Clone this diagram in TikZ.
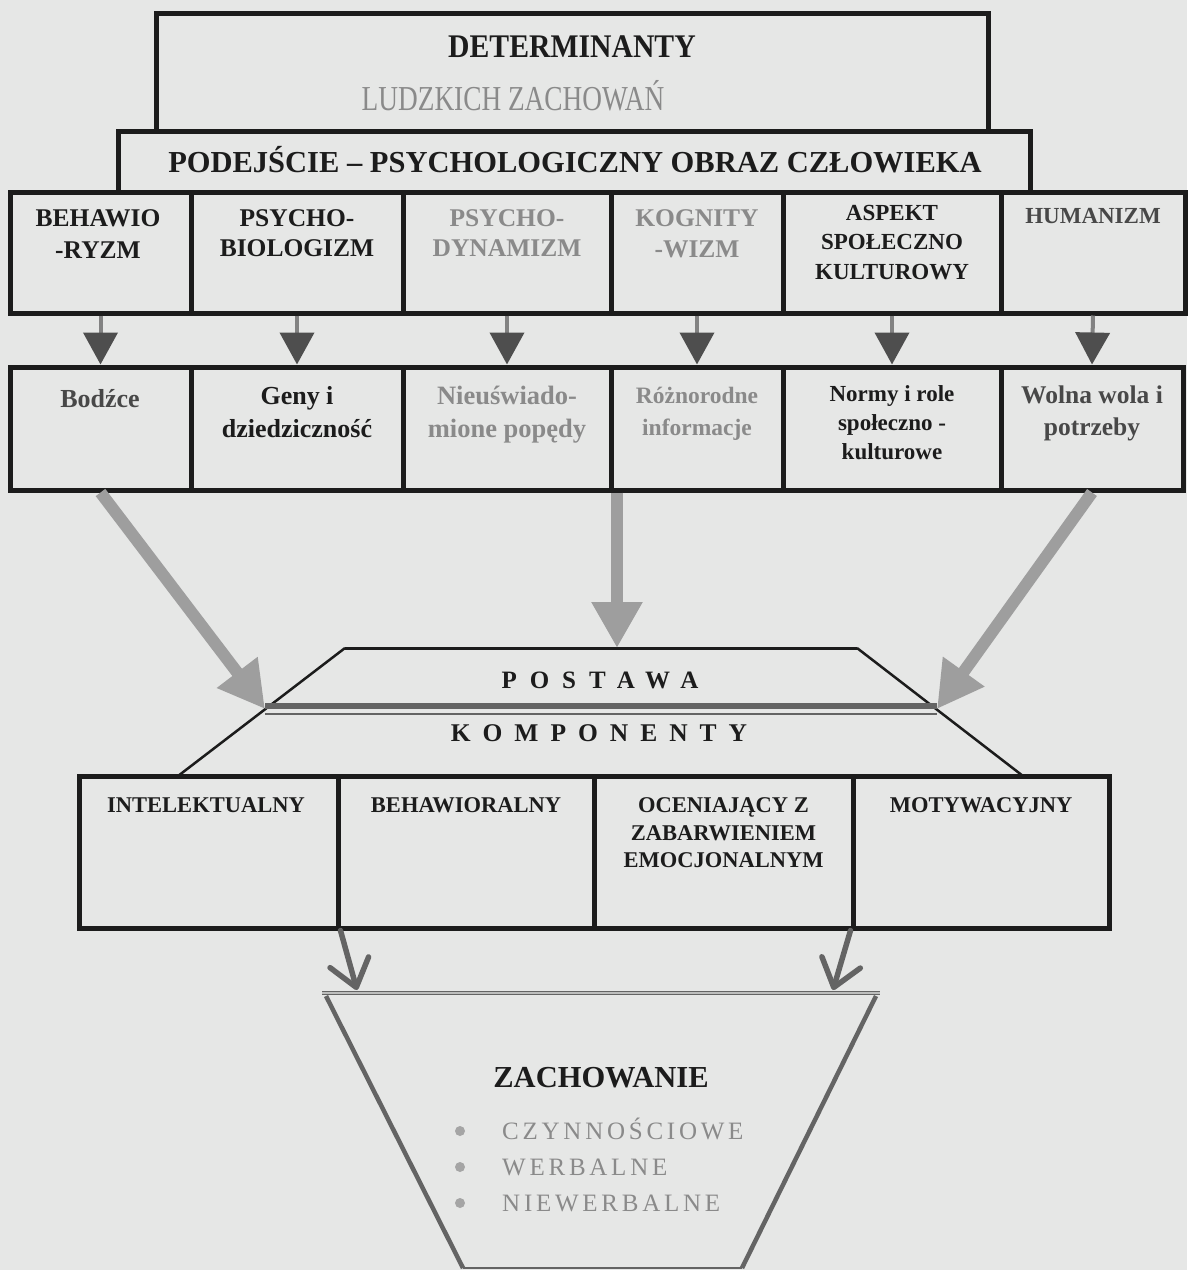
\documentclass[tikz,border=0pt]{standalone}
\usepackage{fontspec}
\setmainfont{Liberation Serif}
\newfontfamily\narrowserif[FakeStretch=0.78]{Liberation Serif}
\newfontfamily\semiserif[FakeStretch=0.9]{Liberation Serif}
\usetikzlibrary{arrows.meta}

\definecolor{paper}{RGB}{230,231,230}
\definecolor{ink}{RGB}{28,28,28}
\definecolor{inkdim}{RGB}{72,72,72}
\definecolor{inkpale}{RGB}{138,138,138}
\definecolor{bigtone}{RGB}{158,158,158}
\definecolor{shafttone}{RGB}{130,130,130}
\definecolor{headtone}{RGB}{78,78,78}
\definecolor{rimtone}{RGB}{100,100,100}
\definecolor{dottone}{RGB}{165,165,165}

\newcommand{\fs}[2]{\fontsize{#1}{#2}\selectfont}

\begin{document}
\begin{tikzpicture}[x=1pt,y=-1pt,
  frame/.style={draw=ink, line width=5pt, inner sep=0pt},
  rowtext/.style={anchor=north, align=center, inner sep=0pt, text=ink},
  lonetext/.style={anchor=base, inner sep=0pt, text=ink},
  feed/.style={draw=shafttone, line width=4pt, -{Triangle[width=34pt,length=32pt,color=headtone]}},
  bigfeed/.style={draw=bigtone, line width=12pt, -{Triangle[width=48pt,length=46pt]}},
  outflow/.style={draw=rimtone, line width=5.5pt, line cap=round,
    -{Straight Barb[length=26pt,width=40pt,line cap=round,line join=round]}},
  dotitem/.style={circle, fill=dottone, minimum size=10pt, inner sep=0pt},
  listtext/.style={anchor=base west, inner sep=0pt, text=inkpale,
    font=\fs{25}{30}\addfontfeature{LetterSpace=15}},
]
\fill[paper] (0,0) rectangle (1187,1270);
\useasboundingbox (0,0) rectangle (1187,1270);

% ---- title and approach boxes
\node[frame, minimum width=832pt, minimum height=118pt] (det) at (572,72) {};
\node[frame, minimum width=912pt, minimum height=61pt] (appr) at (574,161.5) {};
\node[lonetext, font=\semiserif\fs{33}{38}\bfseries] (tdet) at (572,57) {DETERMINANTY};
\node[lonetext, text=inkpale, font=\narrowserif\fs{35}{40}] (tlud) at (513,110.5) {LUDZKICH ZACHOWAŃ};
\node[lonetext, font=\fs{30.5}{36}\bfseries] (tappr) at (575,172) {PODEJŚCIE – PSYCHOLOGICZNY OBRAZ CZŁOWIEKA};

% ---- schools row
\node[frame, minimum width=181pt, minimum height=121pt] (s1) at (100.5,252.5) {};
\node[frame, minimum width=212pt, minimum height=121pt] (s2) at (297,252.5) {};
\node[frame, minimum width=208pt, minimum height=121pt] (s3) at (507,252.5) {};
\node[frame, minimum width=172pt, minimum height=121pt] (s4) at (697,252.5) {};
\node[frame, minimum width=218pt, minimum height=121pt] (s5) at (892,252.5) {};
\node[frame, minimum width=184pt, minimum height=121pt] (s6) at (1093,252.5) {};

\node[rowtext, font=\fs{25.5}{32}\bfseries] (ts1) at (98,209) {BEHAWIO\\-RYZM};
\node[rowtext, font=\fs{25.5}{30}\bfseries] (ts2) at (297,209) {PSYCHO-\\BIOLOGIZM};
\node[rowtext, text=inkpale, font=\fs{25.5}{30}\bfseries] (ts3) at (507,209) {PSYCHO-\\DYNAMIZM};
\node[rowtext, text=inkpale, font=\fs{25.5}{31}\bfseries] (ts4) at (697,209) {KOGNITY\\-WIZM};
\node[rowtext, font=\fs{23}{29.5}\bfseries] (ts5) at (892,205) {ASPEKT\\SPOŁECZNO\\KULTUROWY};
\node[lonetext, text=inkdim, font=\fs{23}{29}\bfseries] (ts6) at (1093,223) {HUMANIZM};

% ---- determinants row
\node[frame, minimum width=181pt, minimum height=123pt] (r1) at (100.5,428.5) {};
\node[frame, minimum width=212pt, minimum height=123pt] (r2) at (297,428.5) {};
\node[frame, minimum width=208pt, minimum height=123pt] (r3) at (507,428.5) {};
\node[frame, minimum width=172pt, minimum height=123pt] (r4) at (697,428.5) {};
\node[frame, minimum width=218pt, minimum height=123pt] (r5) at (892,428.5) {};
\node[frame, minimum width=182pt, minimum height=123pt] (r6) at (1092,428.5) {};

\node[lonetext, text=inkdim, font=\fs{26}{32}\bfseries] (tr1) at (100,407) {Bodźce};
\node[rowtext, font=\fs{26}{33}\bfseries] (tr2) at (297,386) {Geny i\\dziedziczność};
\node[rowtext, text=inkpale, font=\fs{26.5}{33}\bfseries] (tr3) at (507,386) {Nieuświado-\\mione popędy};
\node[rowtext, text=inkpale, font=\fs{23.5}{32}\bfseries] (tr4) at (697,387) {Różnorodne\\informacje};
\node[rowtext, text=ink, font=\fs{23}{29}\bfseries] (tr5) at (892,385) {Normy i role\\społeczno -\\kulturowe};
\node[rowtext, text=inkdim, font=\fs{25.5}{32}\bfseries] (tr6) at (1092,386) {Wolna wola i\\potrzeby};

% ---- school -> determinant arrows
\draw[feed] (s1.south) -- (r1.north);
\draw[feed] (s2.south) -- (r2.north);
\draw[feed] (s3.south) -- (r3.north);
\draw[feed] (s4.south) -- (r4.north);
\draw[feed] (s5.south) -- (r5.north);
\draw[feed] (s6.south) -- (r6.north);

% ---- attitude trapezoid
\coordinate (pTL) at (345,648);
\coordinate (pTR) at (857,648);
\coordinate (pTM) at (617,648);
\coordinate (pBL) at (178,776);
\coordinate (pBR) at (1023,776);
\coordinate (pML) at (265,709);
\coordinate (pMR) at (937,709);
\draw[ink, line width=3pt] (pTL) -- (pTR);
\draw[ink, line width=2.5pt] (pTL) -- (pBL);
\draw[ink, line width=2.5pt] (pTR) -- (pBR);
\draw[rimtone, line width=6pt] ([yshift=3pt]pML) -- ([yshift=3pt]pMR);
\draw[rimtone, line width=2pt] ([yshift=-4.5pt]pML) -- ([yshift=-4.5pt]pMR);
\node[lonetext, font=\fs{25}{30}\bfseries\addfontfeature{LetterSpace=52}] (tpost) at (600,688.5) {POSTAWA};
\node[lonetext, font=\fs{25.5}{30}\bfseries\addfontfeature{LetterSpace=47}] (tkomp) at (599,741) {KOMPONENTY};

% ---- determinants -> attitude
\draw[bigfeed] (r1.south) -- (pML);
\draw[bigfeed] (pTM |- r3.south) -- (pTM);
\draw[bigfeed] (r6.south) -- (pMR);

% ---- components row
\node[frame, minimum width=259pt, minimum height=152pt] (k1) at (208.5,852) {};
\node[frame, minimum width=256pt, minimum height=152pt] (k2) at (466,852) {};
\node[frame, minimum width=259pt, minimum height=152pt] (k3) at (723.5,852) {};
\node[frame, minimum width=256pt, minimum height=152pt] (k4) at (981,852) {};
\node[rowtext, font=\fs{22.5}{27.5}\bfseries] (tk1) at (206,797.5) {INTELEKTUALNY};
\node[rowtext, font=\fs{22.5}{27.5}\bfseries] (tk2) at (466,797.5) {BEHAWIORALNY};
\node[rowtext, font=\fs{22.5}{27.5}\bfseries] (tk3) at (723.5,797.5) {OCENIAJĄCY Z\\ZABARWIENIEM\\EMOCJONALNYM};
\node[rowtext, font=\fs{22.5}{27.5}\bfseries] (tk4) at (981,797.5) {MOTYWACYJNY};

% ---- behaviour funnel
\coordinate (fTL) at (322,993);
\coordinate (fTR) at (880,993);
\coordinate (fSL) at (326,996);
\coordinate (fSR) at (876,996);
\coordinate (fBL) at (463,1268);
\coordinate (fBR) at (742,1268);
\coordinate (oL) at (357,990);
\coordinate (oR) at (833,990);
\draw[rimtone, line width=4.5pt] (fSL) -- (fBL);
\draw[rimtone, line width=4.5pt] (fSR) -- (fBR);
\draw[rimtone, line width=2pt] (fBL) -- (fBR);
\draw[draw=rimtone, double=paper!60!gray, double distance=1.5pt, line width=1.3pt] (fTL) -- (fTR);

% ---- components -> behaviour
\draw[outflow] (k1.south east) -- (oL);
\draw[outflow] (k4.south west) -- (oR);

\node[lonetext, font=\fs{30.5}{36}\bfseries] (tzach) at (601,1087) {ZACHOWANIE};
\node[dotitem] (d1) at (460,1131) {};
\node[dotitem] (d2) at (460,1167) {};
\node[dotitem] (d3) at (460,1203) {};
\node[listtext] (z1) at (502,1139.5) {CZYNNOŚCIOWE};
\node[listtext] (z2) at (502,1175.5) {WERBALNE};
\node[listtext] (z3) at (502,1211.5) {NIEWERBALNE};
\end{tikzpicture}
\end{document}
